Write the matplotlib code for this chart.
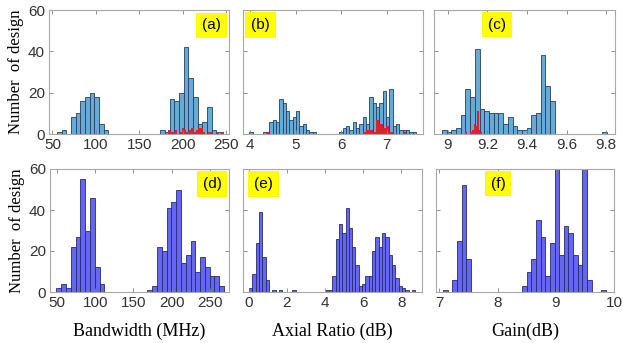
import matplotlib
matplotlib.use('Agg')
import matplotlib.pyplot as plt
import numpy as np

# histogram data: first bin edge, bin width, counts per bin
# (a) bandwidth, all designs + selected designs (red)
a_start, a_width = 55.0, 5.4
a_counts = [1, 2, 0, 8, 10, 16, 18, 20, 18, 5, 2, 0, 0, 0, 0, 0, 0, 0, 0, 0, 0, 0,
            2, 1, 17, 16, 20, 42, 27, 18, 5, 6, 13, 2, 1]
a_red_start, a_red_width = 182.5, 2.7
a_red = [2, 1, 1, 2, 0, 1, 3, 2, 1, 2, 3, 1, 2, 3, 3, 1, 0, 1, 1, 0, 0, 1, 0, 1]

# (b) axial ratio
b_start, b_width = 3.98, 0.0733
b_counts = [1, 0, 0, 0, 1, 1, 6, 7, 6, 17, 15, 11, 7, 8, 11, 4, 5, 2, 1, 1,
            0, 0, 0, 0, 0, 0, 0,
            1, 3, 4, 2, 6, 3, 5, 8, 5, 18, 15, 13, 15, 21, 8, 22, 4, 5, 2, 2, 2, 1, 1]
b_red = [0, 0, 0, 0, 0, 1, 0, 0, 0, 0, 0, 0, 0, 0, 0, 0, 0, 0, 0, 0,
         0, 0, 0, 0, 0, 0, 0,
         0, 0, 0, 0, 0, 0, 0, 1, 2, 2, 1, 7, 5, 3, 4, 1, 0, 0, 0, 1, 0, 0, 0]

# (c) gain
c_start, c_width = 8.97, 0.0238
c_counts = [2, 1, 2, 3, 9, 22, 18, 41, 12, 11, 10, 10, 10, 5, 8, 4, 2, 2, 3, 9, 10,
            38, 23, 16, 0, 0, 0, 0, 0, 0, 0, 0, 0, 0, 1]
c_red_start, c_red_width = 9.088, 0.0085
c_red = [1, 0, 0, 1, 2, 5, 4, 11, 2, 1]
c_ticks = [9, 9.2, 9.4, 9.6, 9.8]
c_ticklabels = ['9', '9.2', '9.4', '9.6', '9.8']

# (d) bandwidth, second set
d_start, d_width = 49.4, 6.26
d_counts = [2, 4, 2, 22, 27, 55, 30, 46, 12, 4, 0, 0, 0, 0, 0, 0, 0, 0, 0,
            1, 3, 22, 20, 41, 44, 50, 14, 18, 25, 10, 17, 12, 8, 8, 3]

# (e) axial ratio, second set
e_start, e_width = 0.03, 0.174
e_counts = [2, 9, 24, 39, 17, 6, 0, 1, 0, 1, 0, 0, 0, 1, 0, 0, 0, 0, 0, 0, 0, 0, 0,
            1, 1, 8, 26, 33, 29, 41, 31, 22, 13, 3, 4, 8, 8, 20, 27, 22, 29, 27, 18,
            13, 7, 3, 2, 1, 0, 1]

# (f) gain, second set
f_start, f_width = 7.063, 0.0798
f_counts = [1, 0, 6, 25, 52, 16, 0, 0, 0, 0, 0, 0, 0, 0, 0, 0, 0,
            3, 10, 16, 35, 27, 8, 24, 64, 18, 32, 29, 18, 13, 63, 6, 0, 0, 1]

top_blue = '#66aad7'
top_edge = '#23425f'
red = '#d8232f'
bot_blue = '#6666f5'
bot_edge = '#2a2a6e'
frame = '#a8a8a8'

W, H = 623, 343
fig = plt.figure(figsize=(W / 100, H / 100), dpi=100)


def make_ax(l, t, w, h):
    return fig.add_axes([l / W, 1 - (t + h) / H, w / W, h / H])


def hist(ax, start, width, counts, fc, ec, lw=0.6):
    edges = start + width * np.arange(len(counts))
    ax.bar(edges, counts, width=width, align='edge', color=fc, edgecolor=ec, linewidth=lw)


def style(ax, xlim, xticks, ylabels, tag, tagpos, xticklabels=None):
    ax.set_xlim(*xlim)
    ax.set_ylim(0, 60)
    ax.set_xticks(xticks)
    if xticklabels is not None:
        ax.set_xticklabels(xticklabels)
    ax.set_yticks([0, 20, 40, 60])
    if not ylabels:
        ax.set_yticklabels([])
    ax.tick_params(direction='in', top=True, right=True, length=3, width=0.6,
                   color='#808080', labelcolor='#333333', labelsize=11, pad=3)
    for lab in ax.get_xticklabels() + ax.get_yticklabels():
        lab.set_family('Liberation Sans')
    for s in ax.spines.values():
        s.set_color(frame)
        s.set_linewidth(0.8)
    ax.text(tagpos[0], tagpos[1], tag, transform=ax.transAxes, ha='center', va='center',
            fontsize=11, family='Liberation Sans',
            bbox=dict(boxstyle='square,pad=0.38', fc='#ffff00', ec='none'))


serif = 'Liberation Serif'

# top row
ax = make_ax(49, 10, 180, 124)
hist(ax, a_start, a_width, a_counts, top_blue, top_edge)
hist(ax, a_red_start, a_red_width, a_red, red, 'none', 0)
style(ax, (46, 253), [50, 100, 150, 200, 250], True, '(a)', (0.903, 0.875))
ax.set_ylabel('Number  of design', family=serif, fontsize=12, labelpad=3)

ax = make_ax(243, 10, 180, 124)
hist(ax, b_start, b_width, b_counts, top_blue, top_edge)
hist(ax, b_start, b_width, b_red, red, 'none', 0)
style(ax, (3.84, 7.8), [4, 5, 6, 7], False, '(b)', (0.097, 0.88))

ax = make_ax(434, 10, 181, 124)
hist(ax, c_start, c_width, c_counts, top_blue, top_edge)
hist(ax, c_red_start, c_red_width, c_red, red, 'none', 0)
style(ax, (8.93, 9.845), c_ticks, False, '(c)', (0.348, 0.883), c_ticklabels)

# bottom row
ax = make_ax(50, 169, 179, 123)
hist(ax, d_start, d_width, d_counts, bot_blue, bot_edge)
style(ax, (41, 275), [50, 100, 150, 200, 250], True, '(d)', (0.905, 0.878))
ax.set_ylabel('Number  of design', family=serif, fontsize=12, labelpad=3)
ax.set_xlabel('Bandwidth (MHz)', family=serif, fontsize=13, labelpad=9)

ax = make_ax(243, 169, 179, 123)
hist(ax, e_start, e_width, e_counts, bot_blue, bot_edge)
style(ax, (-0.29, 9.08), [0, 2, 4, 6, 8], False, '(e)', (0.115, 0.878))
ax.set_xlabel('Axial Ratio (dB)', family=serif, fontsize=13, labelpad=9)

ax = make_ax(436, 169, 178, 123)
hist(ax, f_start, f_width, f_counts, bot_blue, bot_edge)
style(ax, (6.94, 10), [7, 8, 9, 10], False, '(f)', (0.348, 0.882))
ax.set_xlabel('Gain(dB)', family=serif, fontsize=13, labelpad=9)

fig.savefig('out.png', dpi=100)
